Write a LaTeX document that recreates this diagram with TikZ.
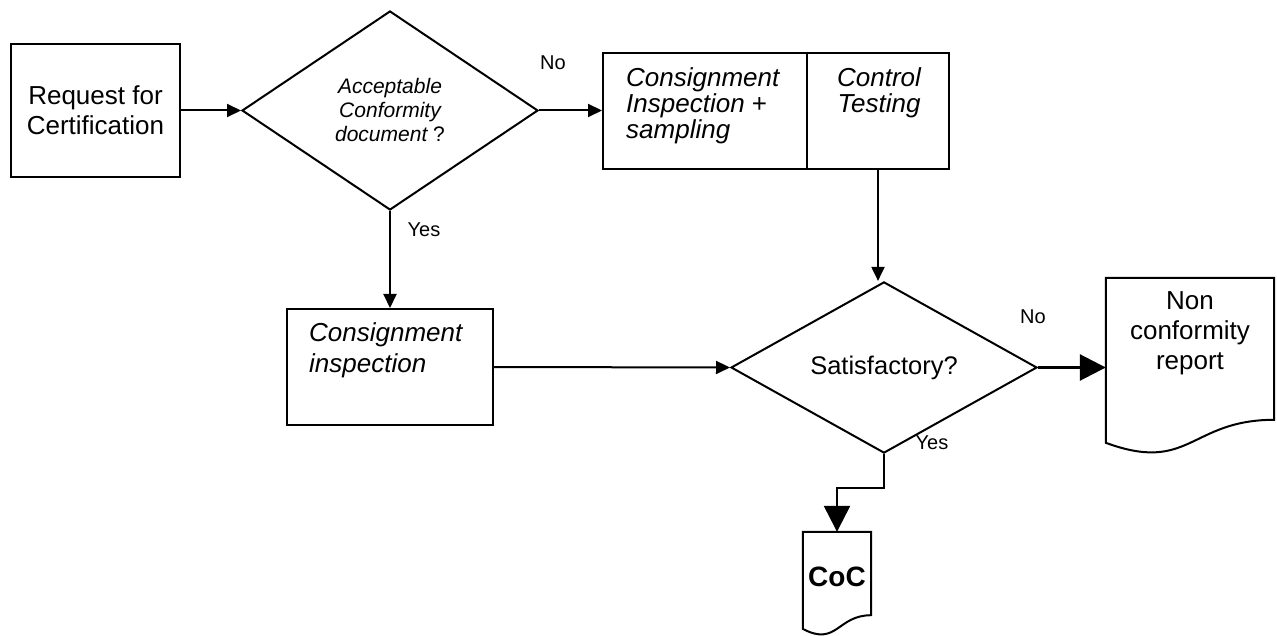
\documentclass[tikz,border=0pt]{standalone}
\usepackage{fontspec}
\setmainfont{Liberation Sans}
\usetikzlibrary{arrows.meta,shapes.geometric,calc}
\tikzset{
  box/.style={draw, line width=2pt, rectangle, inner sep=0pt},
  ghost/.style={rectangle, inner sep=0pt},
  dia/.style={draw, line width=2pt, diamond, inner sep=0pt, aspect=1},
  arr/.style={line width=2pt, -{Triangle[length=14pt,width=13pt]}},
  bigarr/.style={line width=2.8pt, -{Triangle[length=26pt,width=26pt]}},
  lbl/.style={font=\fontsize{20}{24}\selectfont, inner sep=0pt},
  txt/.style={font=\fontsize{26}{30}\selectfont, inner sep=0pt, align=center},
  itxt/.style={font=\fontsize{26}{26}\selectfont\itshape, inner sep=0pt, align=left},
  docline/.style={draw, line width=2pt, line join=miter},
}
\begin{document}
\begin{tikzpicture}[x=1pt,y=-1pt]
\useasboundingbox (0,0) rectangle (1277,636);
% boxes
\node[box, minimum width=169pt, minimum height=133pt, txt] (req) at (95.5,110.5) {Request for\\Certification};
\node[dia, minimum width=296pt, minimum height=199pt, font=\fontsize{21}{24}\selectfont\itshape, align=center] (d1) at (390,110.5) {Acceptable\\Conformity\\document\upshape{} ?};
\node[box, minimum width=204pt, minimum height=116pt] (cis) at (705,111) {};
\node[box, minimum width=142pt, minimum height=116pt] (ct) at (878,111) {};
\node[itxt, anchor=west] (cistxt) at (626,106) {Consignment\\Inspection \upshape{}+\\sampling};
\node[itxt, align=center] (cttxt) at (879,93) {Control\\Testing};
\node[box, minimum width=206pt, minimum height=116pt] (ci) at (390,367) {};
\node[font=\fontsize{26}{31}\selectfont\itshape, inner sep=0pt, align=left, anchor=west] (citxt) at (309,350.5) {Consignment\\inspection};
\node[dia, minimum width=306pt, minimum height=151pt, font=\fontsize{25.5}{30}\selectfont] (d2) at (884,367.5) {Satisfactory?};
% non conformity document
\node[ghost, minimum width=168pt, minimum height=177pt] (nc) at (1190,366.5) {};
\path[docline] (nc.north west) -- (nc.north east) -- ($(nc.north east)+(0,142)$)
  .. controls ($(nc.north)+(0,142)$) and ($(nc.north)+(0,196)$) .. ($(nc.north west)+(0,165)$) -- cycle;
\node[txt] (nctxt) at (1190,333) {Non\\conformity\\report};
% CoC document
\node[ghost, minimum width=68pt, minimum height=104pt] (coc) at (837,584) {};
\path[docline] (coc.north west) -- (coc.north east) -- ($(coc.north east)+(0,83.4)$)
  .. controls ($(coc.north)+(0,83.4)$) and ($(coc.north)+(0,115.1)$) .. ($(coc.north west)+(0,97.1)$) -- cycle;
\node[font=\fontsize{28}{32}\selectfont\bfseries, inner sep=0pt] (coctxt) at (837,577) {CoC};
% labels
\node[lbl] (no1) at (553,63) {No};
\node[lbl] (yes1) at (424,230) {Yes};
\node[lbl] (no2) at (1033,317) {No};
\node[lbl] (yes2) at (932,443) {Yes};
% connectors
\coordinate (bend1) at (884,488);
\coordinate (bend2) at (837,488);
\draw[arr] (req.east) -- (d1.west);
\draw[arr] (d1.east) -- (d1.east -| cis.west);
\draw[arr] (d1.south) -- (ci.north);
\draw[arr] (ct.south) -- (ct.south |- d2.north);
\draw[arr] (ci.east) -- (d2.west);
\draw[bigarr] (d2.east) -- (d2.east -| nc.west);
\draw[bigarr, line width=2.4pt] (d2.south) -- (bend1) -- (bend2) -- (coc.north);
\end{tikzpicture}
\end{document}
